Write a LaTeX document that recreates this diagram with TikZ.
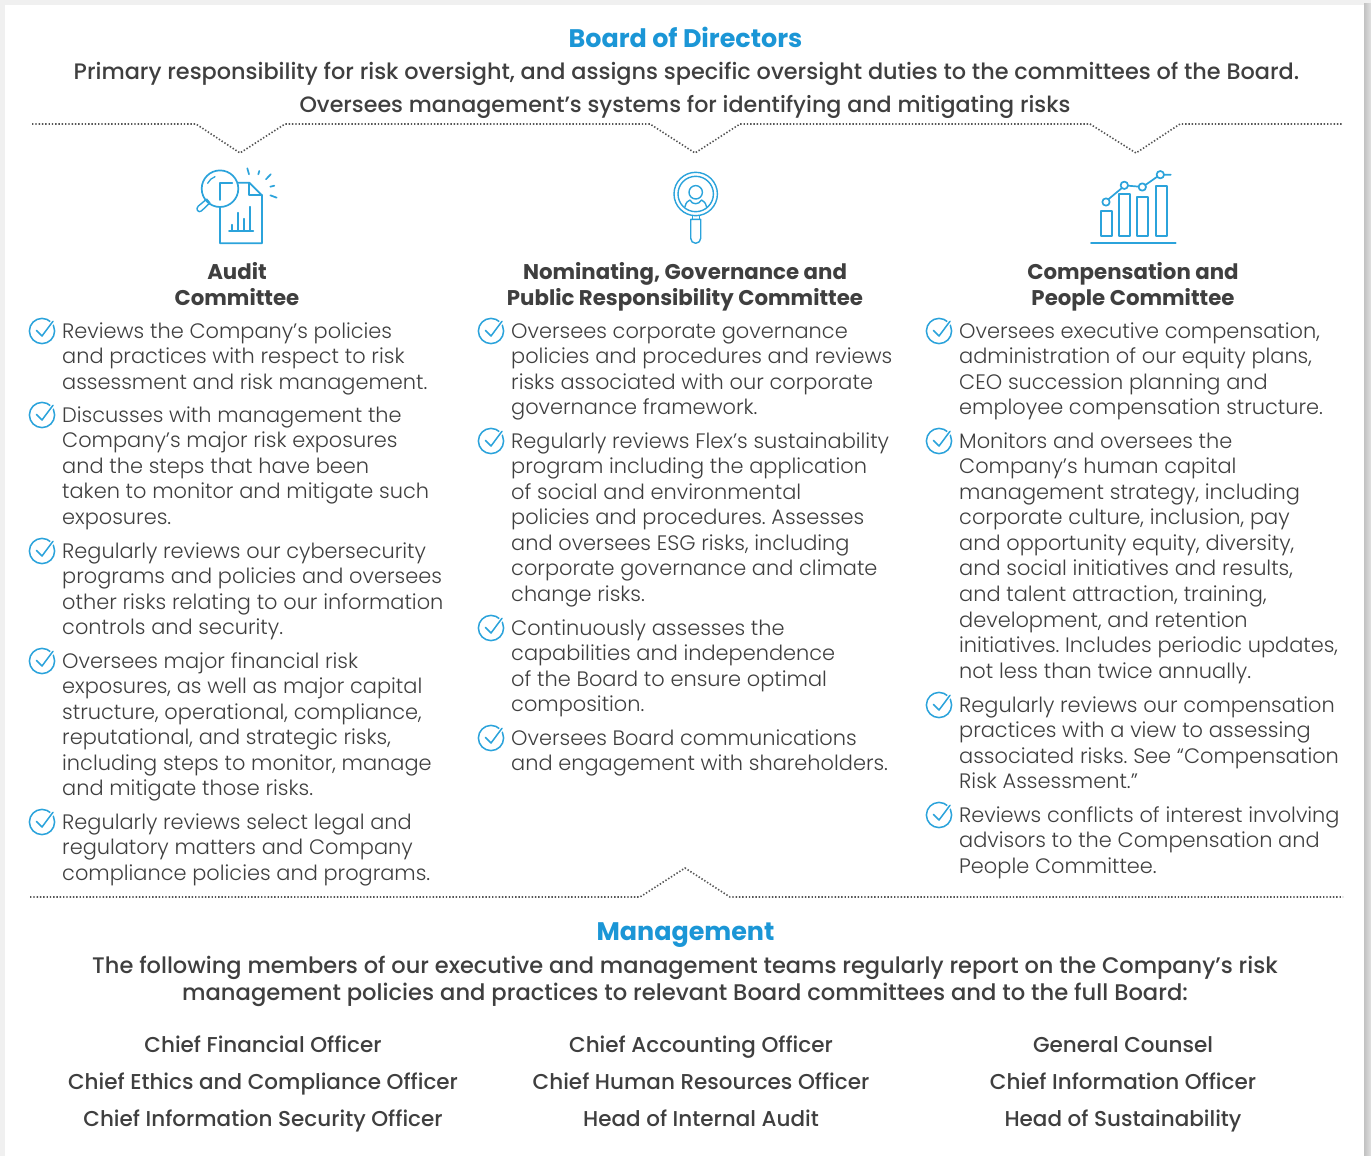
\documentclass[tikz,border=0pt]{standalone}
\usepackage{fontspec}
\setmainfont{Poppins Light}
\newfontfamily\medf{Poppins Medium}
\newfontfamily\boldf{Poppins Bold}
\usetikzlibrary{calc}
\definecolor{hblue}{HTML}{1B96D6}
\definecolor{icblue}{HTML}{2BA3DB}
\definecolor{ink}{HTML}{3F3F3F}
\definecolor{dots}{HTML}{555555}
\tikzset{
  x=1pt,y=-1pt,
  head/.style={font=\boldf\fontsize{25.4}{27}\selectfont,text=hblue,inner sep=0pt,anchor=base},
  lead/.style={font=\medf\fontsize{22.38}{27}\selectfont,text=ink,inner sep=0pt,anchor=base},
  leadb/.style={font=\medf\fontsize{22.2}{27}\selectfont,text=ink,inner sep=0pt,anchor=base},
  mlead/.style={font=\medf\fontsize{22.5}{27}\selectfont,text=ink,inner sep=0pt,anchor=base},
  mleadb/.style={font=\medf\fontsize{22.65}{27}\selectfont,text=ink,inner sep=0pt,anchor=base},
  cmtname/.style={font=\boldf\fontsize{21.3}{26}\selectfont,text=ink,inner sep=0pt,align=center,anchor=north},
  bodytxt/.style={font=\fontsize{20.9}{25.55}\selectfont,text=ink,inner sep=0pt,align=left,anchor=north west},
  role/.style={font=\medf\fontsize{21.5}{24}\selectfont,text=ink,inner sep=0pt,anchor=base},
  dotline/.style={dots,line width=1.6pt,dash pattern=on 1.4pt off 1.9pt},
  ic/.style={icblue,line width=1.7pt,line cap=round,line join=round},
  chk/.style={icblue,line width=1.5pt,line cap=round,line join=round},
}
\newcommand{\bul}[4]{%
  \node[bodytxt] (#1) at (#2,#3-11) {\rule{0pt}{18pt}#4};
  \draw[chk] (#2-20,#3) circle[radius=12.6pt];
  \draw[white,line width=4pt] (#2-20+3,#3+2) -- (#2-20+11,#3-9.7);
  \draw[chk] (#2-25.7,#3-.7) -- (#2-20,#3+5) -- (#2-20+11,#3-9.7);
}
\frenchspacing
\begin{document}
\begin{tikzpicture}
\frenchspacing
\useasboundingbox (0,0) rectangle (1371,1156);
% sheet and its shadow
\fill[white] (0,0) rectangle (1371,1156);
\fill[black!6] (0,0) rectangle (1371,5);
\fill[black!6] (0,0) rectangle (5,1156);
\shade[left color=black!24,right color=black!12] (1364,4) rectangle (1371,1156);
\fill[white] (6,5) rectangle (1364,1156);

% top rule
\coordinate (t0) at (32,124); \coordinate (t1) at (196,124); \coordinate (t2) at (240,153);
\coordinate (t3) at (285,124); \coordinate (t4) at (650,124); \coordinate (t5) at (695,153);
\coordinate (t6) at (740,124); \coordinate (t7) at (1090,124); \coordinate (t8) at (1136,153);
\coordinate (t9) at (1180,124); \coordinate (t10) at (1343,124);
\draw[dotline] (t0)--(t1)--(t2)--(t3)--(t4)--(t5)--(t6)--(t7)--(t8)--(t9)--(t10);
% bottom rule
\coordinate (b0) at (30,897); \coordinate (b1) at (640,897); \coordinate (b2) at (685,868);
\coordinate (b3) at (730,897); \coordinate (b4) at (1343,897);
\draw[dotline] (b0)--(b1)--(b2)--(b3)--(b4);

% titles
\node[head] (board) at (685.5,47.5) {Board of Directors};
\node[lead] (l1) at (686.5,79) {Primary responsibility for risk oversight, and assigns specific oversight duties to the committees of the Board.};
\node[leadb] (l2) at (685,112) {Oversees management’s systems for identifying and mitigating risks};

% audit icon
\draw[ic] (238.3,182.7) -- (249.3,182.7) -- (262,195.3) -- (262,243.3) -- (220,243.3) -- (220,207.3);
\draw[ic] (249.3,182.7) -- (249.3,195.3) -- (262,195.3);
\draw[ic] (220,200) -- (220,182.7) -- (232.3,182.7);
\draw[ic] (220,188.7) circle[radius=18.3pt];
\draw[ic,line width=1.3pt] (207.7,183.3) .. controls (209,180) and (212,178) .. (215,176.7);
\draw[ic,line width=1.4pt] (206.7,199.1) -- (198.3,206.1) .. controls (195,209) and (198.5,213.5) .. (201.5,210.9) -- (209.9,202.9) -- cycle;
\draw[ic] (229,230.7) -- (253.3,230.7);
\draw[ic] (232,230.7) -- (232,224.7) (238,230.7) -- (238,212.7) (244,230.7) -- (244,218.7) (250,230.7) -- (250,206.7);
\draw[ic] (247.3,168.3) -- (249,174.3) (259.3,171) -- (258.3,174.3) (270.7,174.3) -- (266,179.3) (274.3,185.7) -- (270.3,186.7) (276.7,197.7) -- (270.3,195.3);

% nominating icon
\begin{scope}[ic,line width=1.4pt]
\draw (695.7,194) circle[radius=21.7pt];
\draw (695.7,194) circle[radius=17.7pt];
\draw (695.7,192.3) circle[radius=6.7pt];
\draw (685,206.7) .. controls (686,202) and (688,201) .. (690,200) .. controls (692,205) and (699,205) .. (701.5,200) .. controls (703,201) and (705.5,202) .. (706.5,206.7);
\draw (692.3,216) -- (692.3,219.3) (699.3,216) -- (699.3,219.3);
\draw (690.7,219.3) -- (700.7,219.3) -- (700.7,238.3) arc[start angle=0,end angle=-180,radius=5pt] -- cycle;
\end{scope}

% compensation icon
\draw[ic] (1100.7,210.7) rectangle (1112,236);
\draw[ic] (1119,193.7) rectangle (1130,236);
\draw[ic] (1137.3,197.3) rectangle (1148.3,236);
\draw[ic] (1155.7,185.7) rectangle (1166.7,236);
\draw[ic,line width=2pt] (1091,242.7) -- (1175.7,242.7);
\draw[ic] (1106,202) circle[radius=3.7pt];
\draw[ic] (1124.3,185.3) circle[radius=3.7pt];
\draw[ic] (1142.3,187) circle[radius=3.7pt];
\draw[ic] (1160.3,174.7) circle[radius=3.7pt];
\draw[ic] (1108.5,199.2) -- (1121.8,188.1) (1128,185.7) -- (1138.6,186.6) (1145.4,185) -- (1157.2,176.7) (1164,174.7) -- (1170.7,174.7);

% committee names
\node[cmtname] (c1) at (237,261) {\rule{0pt}{18pt}Audit\\Committee};
\node[cmtname] (c2) at (685,261) {\rule{0pt}{18pt}Nominating, Governance and\\Public Responsibility Committee};
\node[cmtname] (c3) at (1133,261) {\rule{0pt}{18pt}Compensation and\\People Committee};

% column 1
\bul{a1}{62}{331}{Reviews the Company’s policies\\and practices with respect to risk\\assessment and risk management.}
\bul{a2}{62}{415}{Discusses with management the\\Company’s major risk exposures\\and the steps that have been\\taken to monitor and mitigate such\\exposures.}
\bul{a3}{62}{551}{Regularly reviews our cybersecurity\\programs and policies and oversees\\other risks relating to our information\\controls and security.}
\bul{a4}{62}{661}{Oversees major financial risk\\exposures, as well as major capital\\structure, operational, compliance,\\reputational, and strategic risks,\\including steps to monitor, manage\\and mitigate those risks.}
\bul{a5}{62}{822}{Regularly reviews select legal and\\regulatory matters and Company\\compliance policies and programs.}

% column 2
\bul{n1}{511}{331}{Oversees corporate governance\\policies and procedures and reviews\\risks associated with our corporate\\governance framework.}
\bul{n2}{511}{441}{Regularly reviews Flex’s sustainability\\program including the application\\of social and environmental\\policies and procedures. Assesses\\and oversees ESG risks, including\\corporate governance and climate\\change risks.}
\bul{n3}{511}{628}{Continuously assesses the\\capabilities and independence\\of the Board to ensure optimal\\composition.}
\bul{n4}{511}{738}{Oversees Board communications\\and engagement with shareholders.}

% column 3
\bul{p1}{959}{331}{Oversees executive compensation,\\administration of our equity plans,\\CEO succession planning and\\employee compensation structure.}
\bul{p2}{959}{441}{Monitors and oversees the\\Company’s human capital\\management strategy, including\\corporate culture, inclusion, pay\\and opportunity equity, diversity,\\and social initiatives and results,\\and talent attraction, training,\\development, and retention\\initiatives. Includes periodic updates,\\not less than twice annually.}
\bul{p3}{959}{705}{Regularly reviews our compensation\\practices with a view to assessing\\associated risks. See “Compensation\\Risk Assessment.”}
\bul{p4}{959}{815}{Reviews conflicts of interest involving\\advisors to the Compensation and\\People Committee.}

% management
\node[head] (mgmt) at (685.5,940) {Management};
\node[mlead] (m1) at (685,973) {The following members of our executive and management teams regularly report on the Company’s risk};
\node[mleadb] (m2) at (685,1000) {management policies and practices to relevant Board committees and to the full Board:};

\node[role] (r11) at (263,1052) {Chief Financial Officer};
\node[role] (r12) at (701,1052) {Chief Accounting Officer};
\node[role] (r13) at (1123,1052) {General Counsel};
\node[role] (r21) at (263,1089) {Chief Ethics and Compliance Officer};
\node[role] (r22) at (701,1089) {Chief Human Resources Officer};
\node[role] (r23) at (1123,1089) {Chief Information Officer};
\node[role] (r31) at (263,1126) {Chief Information Security Officer};
\node[role] (r32) at (701,1126) {Head of Internal Audit};
\node[role] (r33) at (1123,1126) {Head of Sustainability};
\end{tikzpicture}
\end{document}
